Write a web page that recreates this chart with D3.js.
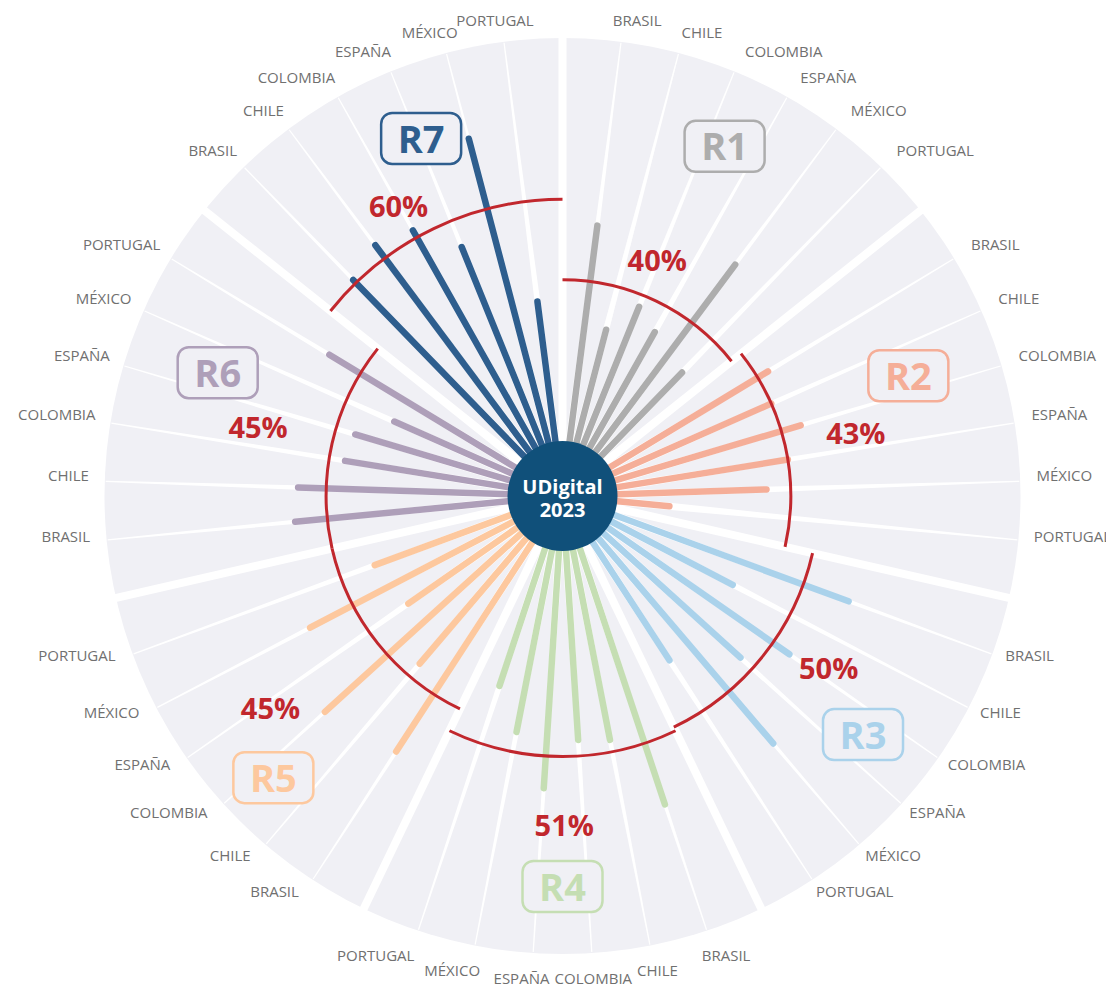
<!DOCTYPE html>
<html>
<head>
<meta charset="utf-8">
<script src="https://cdn.jsdelivr.net/npm/d3@7"></script>
<style>
  body { margin: 0; background: #fff; }
  svg { display: block; }
</style>
</head>
<body>
<div id="chart"></div>
<script>
// regions and countries (clockwise inside each region)
const regions = ['R1', 'R2', 'R3', 'R4', 'R5', 'R6', 'R7'];
const countries = ['BRASIL', 'CHILE', 'COLOMBIA', 'ESPAÑA', 'MÉXICO', 'PORTUGAL'];

// values in % per region, same order as countries
const valuesR1 = [54, 29, 37, 33, 58, 29];
const valuesR2 = [46, 43, 48, 43, 37, 13];
const valuesR3 = [62, 34, 55, 46, 67, 35];
const valuesR4 = [67, 48, 47, 59, 46, 36];
const valuesR5 = [62, 41, 66, 33, 57, 36];
const valuesR6 = [53, 52, 41, 40, 32, 54];
const valuesR7 = [61, 64, 62, 53, 78, 35];

// region averages (red arcs)
const averages = [40, 43, 50, 51, 45, 45, 60];

const colors = ['#adadad', '#f5ae98', '#aad2eb', '#c5deb3', '#fdc89e', '#ae9fb9', '#2e5e8e'];

// where the annotations sit: [angle in degrees, radius in px]
const badgeSpots = [[24.9, 385], [70.9, 366], [128.5, 384], [180, 391], [225.7, 404], [289.6, 366], [338.4, 384]];
const pctSpots = [[21.9, 254], [77.9, 300], [122.9, 317], [179.7, 330], [234, 361], [282.6, 312], [330.5, 333]];

const width = 1106;
const height = 987;
const cx = 562.5;
const cy = 496;
const outerR = 458;
const innerR = 55;
const labelR = 474;

const allValues = [valuesR1, valuesR2, valuesR3, valuesR4, valuesR5, valuesR6, valuesR7];
const perGroup = countries.length + 1; // one empty slot holds the separator
const slots = regions.length * perGroup;

const angle = d3.scaleLinear().domain([0, slots]).range([0, 2 * Math.PI]);
const radius = d3.scaleLinear().domain([0, 100]).range([innerR, outerR]);

const polar = (a, r) => [r * Math.sin(a), -r * Math.cos(a)];
const rad = deg => deg * Math.PI / 180;

const bars = [];
allValues.forEach((vals, g) => {
  vals.forEach((v, k) => {
    bars.push({ g, k, value: v, country: countries[k], a: angle(g * perGroup + k + 1) });
  });
});

const svg = d3.select('#chart').append('svg')
  .attr('width', width)
  .attr('height', height);

const g = svg.append('g')
  .attr('transform', 'translate(' + cx + ',' + cy + ')');

// background disk
g.append('circle')
  .attr('r', outerR)
  .attr('fill', '#f0f0f5');

// tapered white guides along every bar
const guide = d => {
  const a = d.a;
  const px = Math.cos(a), py = Math.sin(a);
  const [x0, y0] = polar(a, innerR);
  const [x1, y1] = polar(a, outerR - 1);
  const w0 = 4, w1 = 0.6;
  return 'M' + (x0 - px * w0) + ',' + (y0 - py * w0)
    + 'L' + (x1 - px * w1) + ',' + (y1 - py * w1)
    + 'L' + (x1 + px * w1) + ',' + (y1 + py * w1)
    + 'L' + (x0 + px * w0) + ',' + (y0 + py * w0) + 'Z';
};

g.append('g').selectAll('path')
  .data(bars)
  .join('path')
  .attr('d', guide)
  .attr('fill', '#fff');

// thick separators between regions
g.append('g').selectAll('line')
  .data(regions)
  .join('line')
  .attr('x1', 0).attr('y1', 0)
  .attr('x2', (d, i) => polar(angle(i * perGroup), outerR + 3)[0])
  .attr('y2', (d, i) => polar(angle(i * perGroup), outerR + 3)[1])
  .attr('stroke', '#fff')
  .attr('stroke-width', 8);

// bars
g.append('g').selectAll('line')
  .data(bars)
  .join('line')
  .attr('x1', d => polar(d.a, 40)[0])
  .attr('y1', d => polar(d.a, 40)[1])
  .attr('x2', d => polar(d.a, radius(d.value))[0])
  .attr('y2', d => polar(d.a, radius(d.value))[1])
  .attr('stroke', d => colors[d.g])
  .attr('stroke-width', 6.5)
  .attr('stroke-linecap', 'round');

// average arcs
g.append('g').selectAll('path')
  .data(averages)
  .join('path')
  .attr('d', (v, i) => {
    const p = d3.path();
    const a0 = angle(i * perGroup) - Math.PI / 2;
    const a1 = angle((i + 1) * perGroup) - Math.PI / 2;
    p.arc(0, 0, radius(v), a0, a1);
    return p.toString();
  })
  .attr('fill', 'none')
  .attr('stroke', '#c1272d')
  .attr('stroke-width', 3);

// percent labels
g.append('g').selectAll('text')
  .data(averages)
  .join('text')
  .attr('x', (v, i) => polar(rad(pctSpots[i][0]), pctSpots[i][1])[0])
  .attr('y', (v, i) => polar(rad(pctSpots[i][0]), pctSpots[i][1])[1])
  .attr('dy', '0.36em')
  .attr('text-anchor', 'middle')
  .attr('font-family', 'Open Sans, sans-serif')
  .attr('font-weight', 700)
  .attr('font-size', 29)
  .attr('fill', '#c1272d')
  .text(v => v + '%');

// region badges
const badge = g.append('g').selectAll('g')
  .data(regions)
  .join('g')
  .attr('transform', (d, i) => {
    const [x, y] = polar(rad(badgeSpots[i][0]), badgeSpots[i][1]);
    return 'translate(' + x + ',' + y + ')';
  });

badge.append('rect')
  .attr('x', -40).attr('y', -26)
  .attr('width', 80).attr('height', 51)
  .attr('rx', 11)
  .attr('fill', '#f0f0f5')
  .attr('stroke', (d, i) => colors[i])
  .attr('stroke-width', 2.5);

badge.append('text')
  .attr('text-anchor', 'middle')
  .attr('dy', '0.36em')
  .attr('font-family', 'Open Sans, sans-serif')
  .attr('font-weight', 700)
  .attr('font-size', 38)
  .attr('fill', (d, i) => colors[i])
  .text(d => d);

// country labels round the outside
g.append('g').selectAll('text')
  .data(bars)
  .join('text')
  .attr('font-family', 'Open Sans, sans-serif')
  .attr('font-size', 15)
  .attr('fill', '#707070')
  .text(d => d.country)
  .each(function (d) {
    const w = this.getComputedTextLength();
    const s = Math.sin(d.a), c = Math.cos(d.a);
    const [x, y] = polar(d.a, labelR);
    const t = Math.max(0, Math.min(1, 0.5 - 1.3 * s));
    const drop = Math.max(0, Math.min(1, (-c - 0.85) / 0.1)) * 10 + Math.max(0, -c) * 5;
    d3.select(this)
      .attr('x', x - w * t + 6 * c)
      .attr('y', y + drop);
  });

// center badge
g.append('circle')
  .attr('r', innerR)
  .attr('fill', '#10507a');

g.append('text')
  .attr('text-anchor', 'middle')
  .attr('font-family', 'Open Sans, sans-serif')
  .attr('font-weight', 700)
  .attr('font-size', 20)
  .attr('fill', '#fff')
  .selectAll('tspan')
  .data(['UDigital', '2023'])
  .join('tspan')
  .attr('x', 0)
  .attr('y', (d, i) => i === 0 ? -2 : 21)
  .text(d => d);
</script>
</body>
</html>
